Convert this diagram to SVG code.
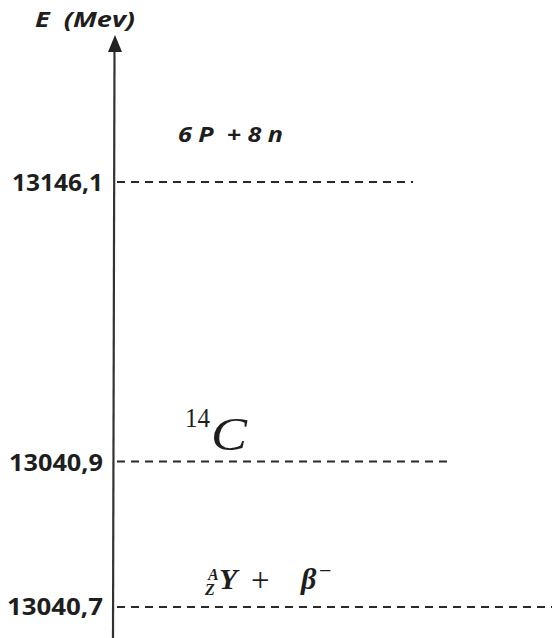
<svg xmlns="http://www.w3.org/2000/svg" width="552" height="638" viewBox="0 0 552 638">
<style>
.lbl{font-family:"Open Sans","Liberation Sans",sans-serif;font-weight:700;font-size:23px;fill:#1e1e1e}
.bi{font-family:"Open Sans","Liberation Sans",sans-serif;font-weight:700;font-style:italic;font-size:22px;fill:#1e1e1e}
.lvl{stroke:#2a2a2a;stroke-width:1.8;stroke-dasharray:8 6;fill:none}
.math{font-family:"Liberation Serif","Times New Roman",serif;fill:#1e1e1e}
</style>
<rect width="552" height="638" fill="#fff"/>
<g id="axis">
<line x1="114.5" y1="50" x2="113" y2="638" stroke="#333" stroke-width="2.2"/>
<polygon points="115,35 108,52 122,52" fill="#222"/>
<text class="bi" x="35" y="27" xml:space="preserve" textLength="100" lengthAdjust="spacingAndGlyphs">E  (Mev)</text>
</g>
<g id="connectors">
<line class="lvl" x1="117" y1="182" x2="413" y2="182"/>
<line class="lvl" x1="117" y1="461.5" x2="447" y2="461.5"/>
<line class="lvl" x1="117" y1="607" x2="552" y2="607"/>
</g>
<g id="level1">
<text class="lbl" x="103" y="191" text-anchor="end" textLength="91" lengthAdjust="spacingAndGlyphs">13146,1</text>
<text class="bi" x="178" y="142" xml:space="preserve" textLength="105" lengthAdjust="spacingAndGlyphs">6 P  + 8 n</text>
</g>
<g id="level2">
<text class="lbl" x="103" y="471" text-anchor="end" textLength="94" lengthAdjust="spacingAndGlyphs">13040,9</text>
<text class="math" x="185" y="427" font-size="27" textLength="25" lengthAdjust="spacingAndGlyphs">14</text>
<text class="math" x="211" y="450" font-size="47" font-style="italic" textLength="36" lengthAdjust="spacingAndGlyphs">C</text>
</g>
<g id="level3">
<text class="lbl" x="103" y="615" text-anchor="end" textLength="96" lengthAdjust="spacingAndGlyphs">13040,7</text>
<text class="math" x="208" y="580" font-size="16" font-weight="700" font-style="italic">A</text>
<text class="math" x="205" y="595" font-size="16" font-weight="700" font-style="italic">Z</text>
<text class="math" x="219" y="589" font-size="30" font-weight="700" font-style="italic">Y</text>
<text class="math" x="251" y="591" font-size="33">+</text>
<text class="math" x="301" y="589" font-size="30" font-weight="700" font-style="italic">β</text>
<text class="math" x="319" y="578" font-size="22">−</text>
</g>
</svg>
